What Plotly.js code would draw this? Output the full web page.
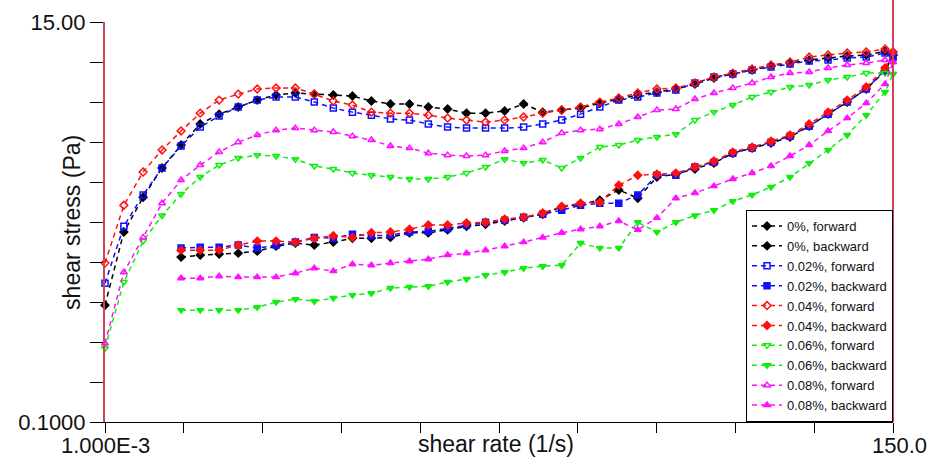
<!DOCTYPE html>
<html>
<head>
<meta charset="utf-8">
<script src="https://cdn.plot.ly/plotly-3.0.1.min.js"></script>
<style>
  html, body { margin: 0; padding: 0; background: #ffffff; }
  #chart { width: 935px; height: 463px; }
</style>
</head>
<body>
<div id="chart"></div>
<script>
// shear rate (1/s) for the forward ramp
const shearRateForward = [0.001, 0.00133, 0.00178, 0.00237, 0.00316, 0.00422, 0.00562, 0.0075, 0.01, 0.0133,
  0.0178, 0.0237, 0.0316, 0.0422, 0.0562, 0.075, 0.1, 0.133, 0.178, 0.237,
  0.316, 0.422, 0.562, 0.75, 1, 1.33, 1.78, 2.37, 3.16, 4.22,
  5.62, 7.5, 10, 13.3, 17.8, 23.7, 31.6, 42.2, 56.2, 75,
  100, 133, 150];
// shear rate (1/s) for the backward ramp (listed from low to high)
const shearRateBackward = [0.00316, 0.00422, 0.00562, 0.0075, 0.01, 0.0133,
  0.0178, 0.0237, 0.0316, 0.0422, 0.0562, 0.075, 0.1, 0.133, 0.178, 0.237,
  0.316, 0.422, 0.562, 0.75, 1, 1.33, 1.78, 2.37, 3.16, 4.22,
  5.62, 7.5, 10, 13.3, 17.8, 23.7, 31.6, 42.2, 56.2, 75,
  100, 133, 150];

// shear stress (Pa)
const stress0Forward = [0.432, 1.08, 1.67, 2.41, 3.21, 4.18, 4.73, 5.17, 5.64, 6.01, 6.16, 6.08, 6.01, 5.93, 5.57, 5.37, 5.37, 5.17, 5.04, 4.79, 4.79, 4.92, 5.37, 4.85, 4.98, 5.10, 5.43, 5.71, 6.01, 6.24, 6.48, 6.89, 7.43, 7.82, 8.22, 8.64, 8.97, 9.32, 9.55, 9.80, 9.92, 10.4, 9.92];
const stress0Backward = [0.789, 0.809, 0.819, 0.829, 0.850, 0.905, 0.940, 0.917, 0.952, 1.00, 1.00, 1.01, 1.07, 1.07, 1.11, 1.16, 1.19, 1.24, 1.29, 1.35, 1.48, 1.53, 1.61, 1.83, 1.65, 2.15, 2.23, 2.38, 2.56, 2.90, 3.09, 3.29, 3.55, 4.07, 4.73, 5.50, 6.48, 8.11, 9.92];
const stress002Forward = [0.569, 1.16, 1.72, 2.41, 3.17, 4.02, 4.62, 5.17, 5.64, 5.86, 5.86, 5.50, 5.10, 4.85, 4.67, 4.45, 4.39, 4.18, 4.02, 3.97, 3.97, 3.97, 4.02, 4.18, 4.39, 4.73, 5.17, 5.64, 5.86, 6.16, 6.40, 6.98, 7.53, 7.82, 8.22, 8.53, 8.86, 9.20, 9.32, 9.55, 9.67, 10.17, 9.67];
const stress002Backward = [0.883, 0.894, 0.894, 0.917, 0.883, 0.917, 0.952, 1.01, 1.00, 1.05, 1.03, 1.04, 1.08, 1.09, 1.13, 1.18, 1.22, 1.25, 1.30, 1.35, 1.42, 1.51, 1.55, 1.55, 1.72, 2.20, 2.20, 2.44, 2.59, 2.90, 3.09, 3.33, 3.59, 4.07, 4.73, 5.50, 6.48, 8.22, 9.67];
const stress004Forward = [0.732, 1.51, 2.29, 3.02, 3.83, 4.79, 5.64, 6.08, 6.48, 6.56, 6.56, 6.08, 5.57, 5.30, 4.85, 4.79, 4.79, 4.67, 4.50, 4.39, 4.28, 4.39, 4.56, 4.79, 4.98, 5.17, 5.50, 5.79, 6.16, 6.48, 6.56, 6.98, 7.53, 7.91, 8.32, 8.75, 9.08, 9.67, 9.92, 10.17, 10.3, 10.7, 10.3];
const stress004Backward = [0.861, 0.861, 0.861, 0.917, 0.964, 0.964, 0.952, 1.00, 1.03, 1.01, 1.07, 1.08, 1.12, 1.18, 1.18, 1.21, 1.22, 1.27, 1.30, 1.37, 1.49, 1.55, 1.57, 1.94, 2.20, 2.23, 2.26, 2.44, 2.63, 2.94, 3.13, 3.37, 3.64, 4.18, 4.85, 5.64, 6.64, 8.43, 10.3];
const stress006Forward = [0.252, 0.577, 0.964, 1.33, 1.74, 2.15, 2.50, 2.73, 2.83, 2.80, 2.69, 2.47, 2.38, 2.26, 2.20, 2.15, 2.10, 2.10, 2.15, 2.26, 2.44, 2.69, 2.56, 2.66, 2.41, 2.73, 3.13, 3.21, 3.42, 3.55, 3.68, 4.39, 4.85, 5.30, 5.86, 6.24, 6.64, 6.81, 7.25, 7.53, 7.91, 7.91, 7.82];
const stress006Backward = [0.406, 0.406, 0.406, 0.406, 0.421, 0.449, 0.466, 0.454, 0.472, 0.490, 0.502, 0.535, 0.542, 0.548, 0.577, 0.599, 0.629, 0.653, 0.687, 0.704, 0.713, 0.940, 0.883, 0.883, 1.22, 1.08, 1.22, 1.33, 1.42, 1.59, 1.72, 1.90, 2.15, 2.56, 3.02, 3.64, 4.67, 6.24, 7.82];
const stress008Forward = [0.268, 0.653, 1.01, 1.55, 2.07, 2.50, 2.94, 3.33, 3.64, 3.87, 3.97, 3.87, 3.78, 3.59, 3.42, 3.17, 3.09, 2.90, 2.83, 2.80, 2.83, 2.98, 3.09, 3.33, 3.73, 3.87, 3.92, 4.18, 4.56, 4.98, 5.04, 5.71, 6.16, 6.56, 6.98, 7.53, 7.91, 8.01, 8.43, 8.75, 8.97, 9.32, 9.08];
const stress008Backward = [0.606, 0.606, 0.621, 0.614, 0.614, 0.614, 0.645, 0.687, 0.662, 0.722, 0.713, 0.732, 0.750, 0.769, 0.809, 0.829, 0.861, 0.905, 0.952, 1.01, 1.07, 1.12, 1.16, 1.24, 1.11, 1.29, 1.65, 1.76, 1.92, 2.10, 2.26, 2.47, 2.80, 3.21, 3.83, 4.50, 5.43, 6.89, 9.08];

const seriesNames = ['0%, forward', '0%, backward', '0.02%, forward', '0.02%, backward',
  '0.04%, forward', '0.04%, backward', '0.06%, forward', '0.06%, backward',
  '0.08%, forward', '0.08%, backward'];

const xTickLabels = ['1.000E-3', '', '', '', '', '', '', '', '', '', '150.0'];
const yTickLabels = ['0.1000', '', '', '', '', '', '', '', '', '', '15.00'];

// axis limits
const xMin = 0.001, xMax = 150;
const yMin = 0.1, yMax = 15;

const seriesData = [
  [shearRateForward, stress0Forward, '#000000', 'diamond'],
  [shearRateBackward, stress0Backward, '#000000', 'diamond'],
  [shearRateForward, stress002Forward, '#1010ff', 'square-open'],
  [shearRateBackward, stress002Backward, '#1010ff', 'square'],
  [shearRateForward, stress004Forward, '#ff1010', 'diamond-open'],
  [shearRateBackward, stress004Backward, '#ff1010', 'diamond'],
  [shearRateForward, stress006Forward, '#10ee10', 'triangle-down-open'],
  [shearRateBackward, stress006Backward, '#10ee10', 'triangle-down'],
  [shearRateForward, stress008Forward, '#ff10ff', 'triangle-up-open'],
  [shearRateBackward, stress008Backward, '#ff10ff', 'triangle-up']
];

const traces = seriesData.map((s, i) => ({
  type: 'scatter',
  mode: 'lines+markers',
  name: seriesNames[i],
  x: s[0],
  y: s[1],
  cliponaxis: false,
  line: { color: s[2], width: 1.5, dash: '5px,4px' },
  marker: { color: s[2], symbol: s[3], size: 6, line: { color: s[2], width: 1.5 } }
}));

// ten equal divisions of the log axes
const lx0 = Math.log10(xMin), lx1 = Math.log10(xMax);
const ly0 = Math.log10(yMin), ly1 = Math.log10(yMax);
const xTicks = xTickLabels.map((_, i) => Math.pow(10, lx0 + (lx1 - lx0) * i / 10));
const yTicks = yTickLabels.map((_, i) => Math.pow(10, ly0 + (ly1 - ly0) * i / 10));

const font = 'Arial, "Liberation Sans", sans-serif';

// x tick labels drawn as annotations so they sit right under the short ticks
const xLabelAnnotations = xTickLabels
  .map((t, i) => ({ t, i }))
  .filter(o => o.t !== '')
  .map(o => ({
    text: o.t, xref: 'paper', yref: 'paper', x: o.i / 10, y: 0,
    xanchor: 'center', yanchor: 'middle', yshift: -23, xshift: o.i === 10 ? 6 : 0,
    showarrow: false, font: { family: font, size: 22, color: '#111111' }
  }));

const layout = {
  width: 935,
  height: 463,
  margin: { l: 105, r: 42, t: 22, b: 41 },
  paper_bgcolor: '#ffffff',
  plot_bgcolor: '#ffffff',
  showlegend: true,
  font: { family: font, color: '#111111' },
  xaxis: {
    type: 'log',
    range: [lx0, lx1],
    showgrid: false,
    zeroline: false,
    showline: true,
    linecolor: '#000000',
    linewidth: 1,
    ticks: 'outside',
    ticklen: 10,
    tickwidth: 1,
    tickcolor: '#000000',
    tickmode: 'array',
    tickvals: xTicks,
    ticktext: xTickLabels.map(() => ''),
    title: { text: '' }
  },
  yaxis: {
    type: 'log',
    range: [ly0, ly1],
    showgrid: false,
    zeroline: false,
    showline: true,
    linecolor: '#d2405c',
    linewidth: 2,
    ticks: 'outside',
    ticklen: 13,
    tickwidth: 1,
    tickcolor: '#000000',
    tickmode: 'array',
    tickvals: yTicks,
    ticktext: yTickLabels,
    tickfont: { family: font, size: 22, color: '#111111' },
    title: { text: '' }
  },
  legend: {
    x: 1, xanchor: 'right',
    y: 0, yanchor: 'bottom',
    bgcolor: '#ffffff',
    bordercolor: '#000000',
    borderwidth: 1,
    font: { family: font, size: 13, color: '#111111' },
    itemwidth: 30,
    tracegroupgap: 0
  },
  shapes: [
    { type: 'line', xref: 'paper', yref: 'paper', x0: 1, x1: 1, y0: 0, y1: 1.055,
      line: { color: '#d2405c', width: 2 } }
  ],
  annotations: xLabelAnnotations.concat([
    { text: 'shear rate (1/s)', xref: 'paper', yref: 'paper', x: 0.496, y: 0,
      xanchor: 'center', yanchor: 'middle', yshift: -22, showarrow: false,
      font: { family: font, size: 23, color: '#111111' } },
    { text: 'shear stress (Pa)', xref: 'paper', yref: 'paper', x: -0.042, y: 0.5,
      xanchor: 'center', yanchor: 'middle', textangle: -90, showarrow: false,
      font: { family: font, size: 23, color: '#111111' } }
  ])
};

Plotly.newPlot('chart', traces, layout, { displayModeBar: false, staticPlot: true });
</script>
</body>
</html>
